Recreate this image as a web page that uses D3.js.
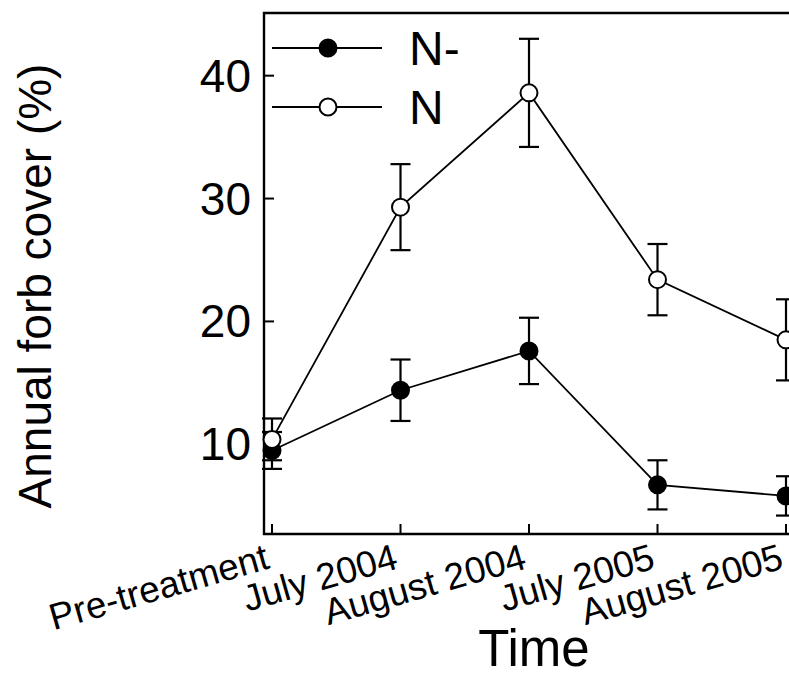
<!DOCTYPE html>
<html>
<head>
<meta charset="utf-8">
<script src="https://cdn.jsdelivr.net/npm/d3@7"></script>
<style>
  body { margin: 0; background: #fff; }
  svg { display: block; }
  text { font-family: "Liberation Sans", Arial, sans-serif; fill: #000; }
</style>
</head>
<body>
<script>
// data
const periods = ["Pre-treatment", "July 2004", "August 2004", "July 2005", "August 2005"];
const nMinus = [9.5, 14.4, 17.6, 6.7, 5.8];
const nMinusErr = [1.5, 2.5, 2.7, 2.0, 1.6];
const nPlus = [10.4, 29.3, 38.6, 23.4, 18.5];
const nPlusErr = [1.7, 3.5, 4.4, 2.9, 3.3];
const yTicks = [10, 20, 30, 40];

const width = 789, height = 676;

const svg = d3.select("body").append("svg")
    .attr("width", width)
    .attr("height", height);

const x = d3.scalePoint().domain(periods).range([272, 786]);
const y = d3.scaleLinear().domain([2.7, 45.1]).range([534, 13]);

const plotLeft = 264, plotTop = y.range()[1], plotBottom = y.range()[0];

// frame: left, top and bottom lines (right side runs off the picture)
svg.append("path")
    .attr("d", `M${width + 20},${plotTop}H${plotLeft}V${plotBottom}H${width + 20}`)
    .attr("fill", "none")
    .attr("stroke", "#000")
    .attr("stroke-width", 2.4);

// y ticks point inwards
const yAxis = svg.append("g");
yAxis.selectAll("line").data(yTicks).join("line")
    .attr("x1", plotLeft).attr("x2", plotLeft + 10)
    .attr("y1", d => y(d)).attr("y2", d => y(d))
    .attr("stroke", "#000").attr("stroke-width", 2);
yAxis.selectAll("text").data(yTicks).join("text")
    .attr("x", 251)
    .attr("y", d => y(d) + 16)
    .attr("text-anchor", "end")
    .style("font-size", "46px")
    .text(d => d);

// x ticks
const xAxis = svg.append("g");
xAxis.selectAll("line").data(periods).join("line")
    .attr("x1", d => x(d)).attr("x2", d => x(d))
    .attr("y1", plotBottom).attr("y2", plotBottom - 10)
    .attr("stroke", "#000").attr("stroke-width", 2);
xAxis.selectAll("text").data(periods).join("text")
    .attr("transform", d => `translate(${x(d) - 1},568) rotate(-16)`)
    .attr("text-anchor", "end")
    .style("font-size", "37px")
    .text(d => d);

// axis titles
svg.append("text")
    .attr("transform", "translate(51,286) rotate(-90)")
    .attr("text-anchor", "middle")
    .style("font-size", "46px")
    .text("Annual forb cover (%)");

svg.append("text")
    .attr("x", 534)
    .attr("y", 666)
    .attr("text-anchor", "middle")
    .style("font-size", "51px")
    .text("Time");

const series = [
    { name: "N-", values: nMinus, err: nMinusErr, fill: "#000" },
    { name: "N", values: nPlus, err: nPlusErr, fill: "#fff" }
];

const plot = svg.append("g");

// error bars
series.forEach(s => {
    const g = plot.append("g").attr("stroke", "#000").attr("stroke-width", 2.2);
    periods.forEach((p, i) => {
        const hi = y(s.values[i] + s.err[i]), lo = y(s.values[i] - s.err[i]);
        g.append("line").attr("x1", x(p)).attr("x2", x(p)).attr("y1", hi).attr("y2", lo);
        g.append("line").attr("x1", x(p) - 10).attr("x2", x(p) + 10).attr("y1", hi).attr("y2", hi);
        g.append("line").attr("x1", x(p) - 10).attr("x2", x(p) + 10).attr("y1", lo).attr("y2", lo);
    });
});

const line = d3.line()
    .x((d, i) => x(periods[i]))
    .y(d => y(d));

series.forEach(s => {
    plot.append("path")
        .attr("d", line(s.values))
        .attr("fill", "none")
        .attr("stroke", "#000")
        .attr("stroke-width", 1.8);
});

series.forEach(s => {
    plot.append("g").selectAll("circle").data(s.values).join("circle")
        .attr("cx", (d, i) => x(periods[i]))
        .attr("cy", d => y(d))
        .attr("r", 8.5)
        .attr("fill", s.fill)
        .attr("stroke", "#000")
        .attr("stroke-width", 2);
});

// legend
const legend = svg.append("g");
series.forEach((s, i) => {
    const ly = 48 + i * 59;
    legend.append("line")
        .attr("x1", 272).attr("x2", 382).attr("y1", ly).attr("y2", ly)
        .attr("stroke", "#000").attr("stroke-width", 1.8);
    legend.append("circle")
        .attr("cx", 328).attr("cy", ly).attr("r", 8.5)
        .attr("fill", s.fill).attr("stroke", "#000").attr("stroke-width", 2);
    legend.append("text")
        .attr("x", 409)
        .attr("y", ly + 17)
        .style("font-size", "48px")
        .text(s.name);
});
</script>
</body>
</html>
